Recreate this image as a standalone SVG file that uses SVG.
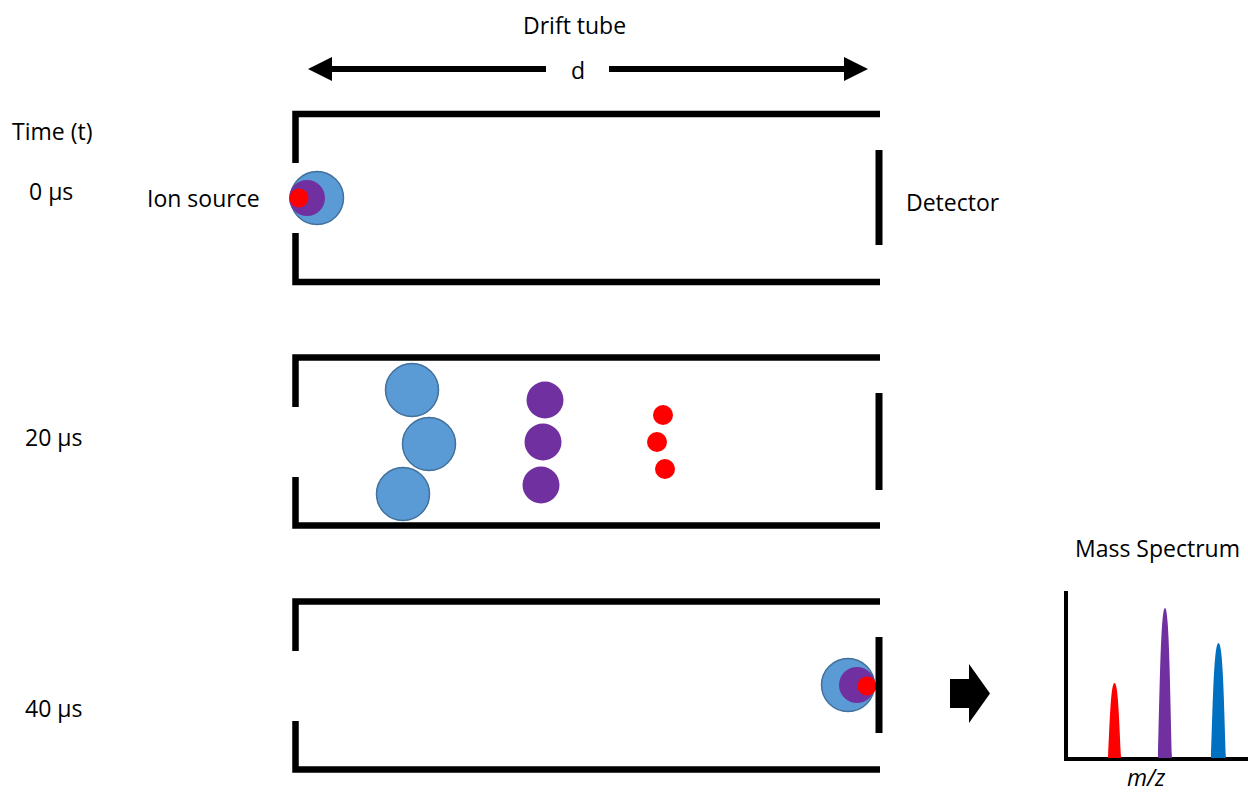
<svg xmlns="http://www.w3.org/2000/svg" width="1248" height="794" viewBox="0 0 1248 794">
<style>
  text { font-family: "Open Sans", "Liberation Sans", sans-serif; font-size: 23px; fill: #000; }
  .wall { fill: none; stroke: #000; stroke-width: 6.5; stroke-linecap: butt; stroke-linejoin: miter; }
  .det { stroke: #000; stroke-width: 7; }
  .blue { fill: #5B9BD5; stroke: #41719C; stroke-width: 1.5; }
  .purple { fill: #7030A0; }
  .red { fill: #FF0000; }
  .axis { fill: none; stroke: #000; stroke-width: 4; }
  .dim { stroke: #000; stroke-width: 6; }
</style>
<defs>
  <marker id="ah" markerWidth="4" markerHeight="4" refX="0" refY="2" orient="auto" markerUnits="strokeWidth">
    <path d="M0,0 L4,2 L0,4 Z" fill="#000"/>
  </marker>
</defs>

<g id="title">
  <text x="523" y="34">Drift tube</text>
  <text x="578" y="79" text-anchor="middle">d</text>
  <text x="12" y="140">Time (t)</text>
</g>

<g id="connectors">
  <line class="dim" x1="546" y1="69" x2="332" y2="69" marker-end="url(#ah)"/>
  <line class="dim" x1="609" y1="69" x2="844" y2="69" marker-end="url(#ah)"/>
  <polygon points="950,679 969,679 969,664 990,693.5 969,723 969,708 950,708" fill="#000"/>
</g>

<g id="tube-0">
  <text x="29" y="200">0 µs</text>
  <text x="147" y="207">Ion source</text>
  <text x="906" y="211">Detector</text>
  <path class="wall" d="M295.5 163 V114 H880"/>
  <path class="wall" d="M295.5 233 V282 H880"/>
  <line class="det" x1="879" y1="150" x2="879" y2="245"/>
  <circle class="blue" cx="317" cy="198" r="26.5"/>
  <circle class="purple" cx="307" cy="198" r="18"/>
  <circle class="red" cx="299" cy="198" r="9.5"/>
</g>

<g id="tube-20">
  <text x="25" y="446">20 µs</text>
  <path class="wall" d="M295.5 407 V357.5 H880"/>
  <path class="wall" d="M295.5 477 V525.5 H880"/>
  <line class="det" x1="879" y1="393" x2="879" y2="490"/>
  <circle class="blue" cx="412" cy="390" r="26.5"/>
  <circle class="blue" cx="429" cy="444" r="26.5"/>
  <circle class="blue" cx="403" cy="494" r="26.5"/>
  <circle class="purple" cx="545" cy="400" r="18.5"/>
  <circle class="purple" cx="543" cy="442" r="18.5"/>
  <circle class="purple" cx="541" cy="485" r="18.5"/>
  <circle class="red" cx="663" cy="415" r="10"/>
  <circle class="red" cx="657" cy="442" r="10"/>
  <circle class="red" cx="665" cy="469" r="10"/>
</g>

<g id="tube-40">
  <text x="25" y="717">40 µs</text>
  <path class="wall" d="M295.5 651 V601.5 H880"/>
  <path class="wall" d="M295.5 721 V769.5 H880"/>
  <circle class="blue" cx="848" cy="685" r="26.5"/>
  <circle class="purple" cx="857" cy="685" r="18"/>
  <circle class="red" cx="867" cy="686" r="9.5"/>
  <line class="det" x1="879" y1="637" x2="879" y2="733"/>
</g>

<g id="spectrum">
  <text x="1075" y="557">Mass Spectrum</text>
  <path class="axis" d="M1066 591 V759 H1248"/>
  <path fill="#FF0000" d="M1108 758 C1110 715 1111 683 1114.5 683 C1118 683 1119 715 1121 758 Z"/>
  <path fill="#7030A0" d="M1158 758 C1160 680 1161 608 1165 608 C1169 608 1170 680 1172 758 Z"/>
  <path fill="#0070C0" d="M1211 758 C1213 700 1214 643 1218.5 643 C1223 643 1224 700 1226 758 Z"/>
  <text x="1127" y="786" font-style="italic">m/z</text>
</g>
</svg>
